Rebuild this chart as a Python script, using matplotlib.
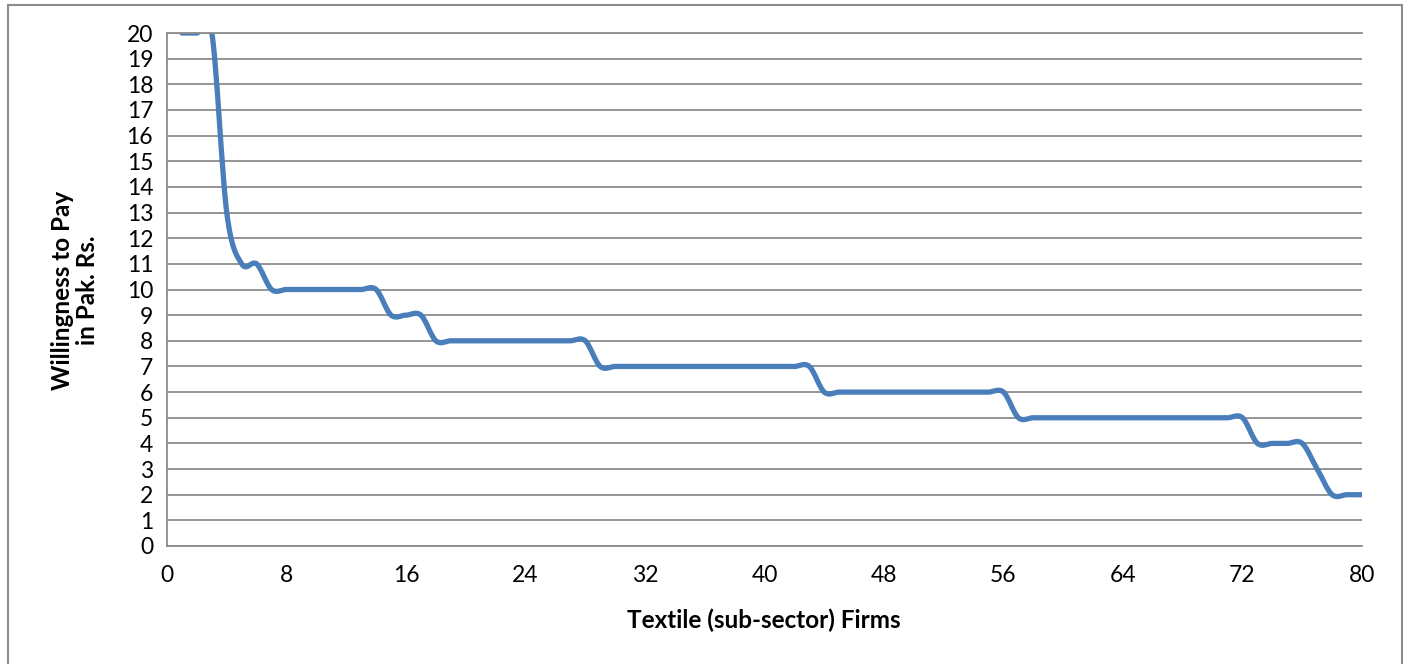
import numpy as np
import matplotlib.pyplot as plt
from matplotlib.path import Path
from matplotlib.patches import PathPatch, Rectangle

plt.rcParams['font.family'] = ['Lato', 'DejaVu Sans']

# firm number (1..80) and willingness to pay (Pak. Rs.)
firms = np.arange(1, 81)
wtp = [20, 20, 20, 13, 11, 11, 10, 10, 10, 10, 10, 10, 10, 10,
       9, 9, 9,
       8, 8, 8, 8, 8, 8, 8, 8, 8, 8, 8,
       7, 7, 7, 7, 7, 7, 7, 7, 7, 7, 7, 7, 7, 7, 7,
       6, 6, 6, 6, 6, 6, 6, 6, 6, 6, 6, 6, 6,
       5, 5, 5, 5, 5, 5, 5, 5, 5, 5, 5, 5, 5, 5, 5, 5,
       4, 4, 4, 4,
       3,
       2, 2, 2]

x_ticks = [0, 8, 16, 24, 32, 40, 48, 56, 64, 72, 80]
y_ticks = list(range(0, 21))

line_color = '#4a7ebb'
grid_color = '#8c8c8c'


def smooth_path(xs, ys):
    # Catmull-Rom style smoothing, like Excel's "smoothed line"
    pts = np.column_stack([xs, ys]).astype(float)
    padded = np.vstack([pts[0], pts, pts[-1]])
    verts = [pts[0]]
    codes = [Path.MOVETO]
    for i in range(1, len(padded) - 2):
        p0, p1, p2, p3 = padded[i - 1], padded[i], padded[i + 1], padded[i + 2]
        verts += [p1 + (p2 - p0) / 6, p2 - (p3 - p1) / 6, p2]
        codes += [Path.CURVE4] * 3
    return Path(verts, codes)


fig = plt.figure(figsize=(14.08, 6.64), dpi=100)
ax = fig.add_axes([167 / 1408, 1 - 546 / 664, 1195 / 1408, 513 / 664])

ax.set_xlim(0, 80)
ax.set_ylim(0, 20)
ax.set_xticks(x_ticks)
ax.set_yticks(y_ticks)
ax.tick_params(length=0, labelsize=16.5, colors='black')
ax.tick_params(axis='x', pad=14)
ax.tick_params(axis='y', pad=10)

ax.grid(axis='y', color=grid_color, linewidth=1.3)
ax.set_axisbelow(True)
ax.spines['right'].set_visible(False)
for side in ['left', 'top', 'bottom']:
    ax.spines[side].set_color(grid_color)
    ax.spines[side].set_linewidth(1.3)

patch = PathPatch(smooth_path(firms, wtp), facecolor='none', edgecolor=line_color,
                  linewidth=3.8, capstyle='round', joinstyle='round')
ax.add_patch(patch)

fig.text(75 / 1408, 1 - 290 / 664, 'Willingness to Pay\nin Pak. Rs.', rotation=90,
         ha='center', va='center', multialignment='center', fontsize=17.5,
         fontweight='bold', linespacing=1.1)
fig.text(764 / 1408, 1 - 620 / 664, 'Textile (sub-sector) Firms', ha='center',
         va='center', fontsize=17.5, fontweight='bold')

fig.patches.append(Rectangle((8 / 1408, -0.1), 1394 / 1408, 1.1 - 5 / 664,
                             transform=fig.transFigure, fill=False,
                             edgecolor=grid_color, linewidth=1.5))

fig.savefig('out.png', dpi=100)
